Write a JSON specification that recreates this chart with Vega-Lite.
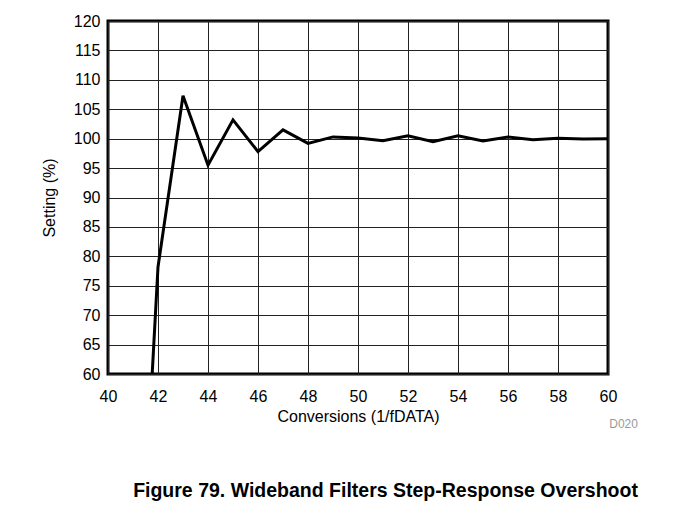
{
  "$schema": "https://vega.github.io/schema/vega-lite/v6.json",
  "width": 500,
  "height": 353,
  "autosize": {"type": "none"},
  "padding": {"left": 108, "top": 21, "right": 65, "bottom": 149},
  "background": "white",
  "config": {
    "font": "Liberation Sans",
    "view": {"stroke": "black", "strokeWidth": 3},
    "axis": {
      "labelFont": "Liberation Sans",
      "titleFont": "Liberation Sans",
      "labelFontSize": 16,
      "titleFontSize": 16,
      "labelColor": "black",
      "titleColor": "black",
      "titleFontWeight": "normal",
      "domain": false,
      "ticks": false,
      "gridColor": "#222",
      "gridOpacity": 1,
      "gridWidth": 1
    }
  },
  "title": {
    "text": "D020",
    "subtitle": "Figure 79. Wideband Filters Step-Response Overshoot",
    "orient": "bottom",
    "anchor": "end",
    "dx": 21,
    "offset": -5,
    "font": "Liberation Sans",
    "fontSize": 12,
    "fontWeight": "normal",
    "color": "#999",
    "subtitleFont": "Liberation Sans",
    "subtitleFontSize": 19.5,
    "subtitleFontWeight": "bold",
    "subtitleColor": "black",
    "subtitlePadding": 51
  },
  "data": {
    "values": [
      {"conv": 41, "pct": 0},
      {"conv": 42, "pct": 78.2},
      {"conv": 43, "pct": 107.3},
      {"conv": 44, "pct": 95.5},
      {"conv": 45, "pct": 103.2},
      {"conv": 46, "pct": 97.8},
      {"conv": 47, "pct": 101.5},
      {"conv": 48, "pct": 99.2},
      {"conv": 49, "pct": 100.3},
      {"conv": 50, "pct": 100.1},
      {"conv": 51, "pct": 99.65},
      {"conv": 52, "pct": 100.5},
      {"conv": 53, "pct": 99.5},
      {"conv": 54, "pct": 100.5},
      {"conv": 55, "pct": 99.6},
      {"conv": 56, "pct": 100.3},
      {"conv": 57, "pct": 99.8},
      {"conv": 58, "pct": 100.05},
      {"conv": 59, "pct": 99.95},
      {"conv": 60, "pct": 100}
    ]
  },
  "mark": {"type": "line", "color": "black", "strokeWidth": 3, "clip": true},
  "encoding": {
    "x": {
      "field": "conv",
      "type": "quantitative",
      "scale": {"domain": [40, 60], "nice": false, "zero": false},
      "axis": {
        "title": "Conversions (1/fDATA)",
        "values": [40, 42, 44, 46, 48, 50, 52, 54, 56, 58, 60],
        "labelPadding": 14,
        "titlePadding": 4,
        "labelFlush": false
      }
    },
    "y": {
      "field": "pct",
      "type": "quantitative",
      "scale": {"domain": [60, 120], "nice": false, "zero": false},
      "axis": {
        "title": "Setting (%)",
        "values": [60, 65, 70, 75, 80, 85, 90, 95, 100, 105, 110, 115, 120],
        "labelPadding": 8,
        "titlePadding": 16,
        "labelFlush": false
      }
    }
  }
}
